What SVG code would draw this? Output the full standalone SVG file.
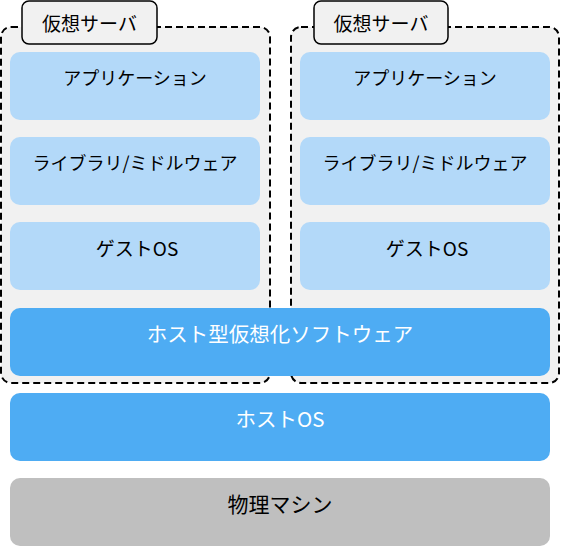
<svg xmlns="http://www.w3.org/2000/svg" width="561" height="547" viewBox="0 0 561 547">
<style>
.vm{fill:#f1f1f1;stroke:#000;stroke-width:2;stroke-dasharray:7,4}
.tab{fill:#f1f1f1;stroke:#000;stroke-width:1.5}
.lb{fill:#b3d9f9}
.db{fill:#4eacf3}
.gr{fill:#bfbfbf}
text{font-family:"Noto Sans CJK JP","Noto Sans",sans-serif;font-size:19px;text-anchor:middle;dominant-baseline:central}
.k{fill:#000}
.w{fill:#fff}
.s18{font-size:18px}
.s20{font-size:20.5px}
.s21{font-size:21px}
</style>
<rect width="561" height="547" fill="#fff"/>
<g id="vm1">
<rect class="vm" x="1" y="27" width="269" height="356" rx="10"/>
<rect class="tab" x="22" y="1" width="135" height="43" rx="7"/>
<text class="k" x="89.5" y="22">仮想サーバ</text>
</g>
<g id="vm2">
<rect class="vm" x="291" y="27" width="268" height="356" rx="10"/>
<rect class="tab" x="314" y="1" width="134" height="43" rx="7"/>
<text class="k" x="381" y="22">仮想サーバ</text>
</g>
<g id="app1"><rect class="lb" x="10" y="52" width="250" height="68" rx="10"/><text class="k s18" x="135" y="77">アプリケーション</text></g>
<g id="lib1"><rect class="lb" x="10" y="137" width="250" height="68" rx="10"/><text class="k s18" x="135" y="162">ライブラリ/ミドルウェア</text></g>
<g id="guest1"><rect class="lb" x="10" y="222" width="250" height="68" rx="10"/><text class="k" x="137" y="247">ゲストOS</text></g>
<g id="app2"><rect class="lb" x="300" y="52" width="250" height="68" rx="10"/><text class="k s18" x="425" y="77">アプリケーション</text></g>
<g id="lib2"><rect class="lb" x="300" y="137" width="250" height="68" rx="10"/><text class="k s18" x="425" y="162">ライブラリ/ミドルウェア</text></g>
<g id="guest2"><rect class="lb" x="300" y="222" width="250" height="68" rx="10"/><text class="k" x="427" y="247">ゲストOS</text></g>
<g id="hypervisor"><rect class="db" x="10" y="308" width="540" height="68" rx="10"/><text class="w s20" x="280" y="333">ホスト型仮想化ソフトウェア</text></g>
<g id="hostos"><rect class="db" x="10" y="393" width="540" height="68" rx="10"/><text class="w s20" x="280" y="418">ホストOS</text></g>
<g id="machine"><rect class="gr" x="10" y="478" width="540" height="68" rx="10"/><text class="k s21" x="280" y="503">物理マシン</text></g>
<g id="connectors"></g>
</svg>
